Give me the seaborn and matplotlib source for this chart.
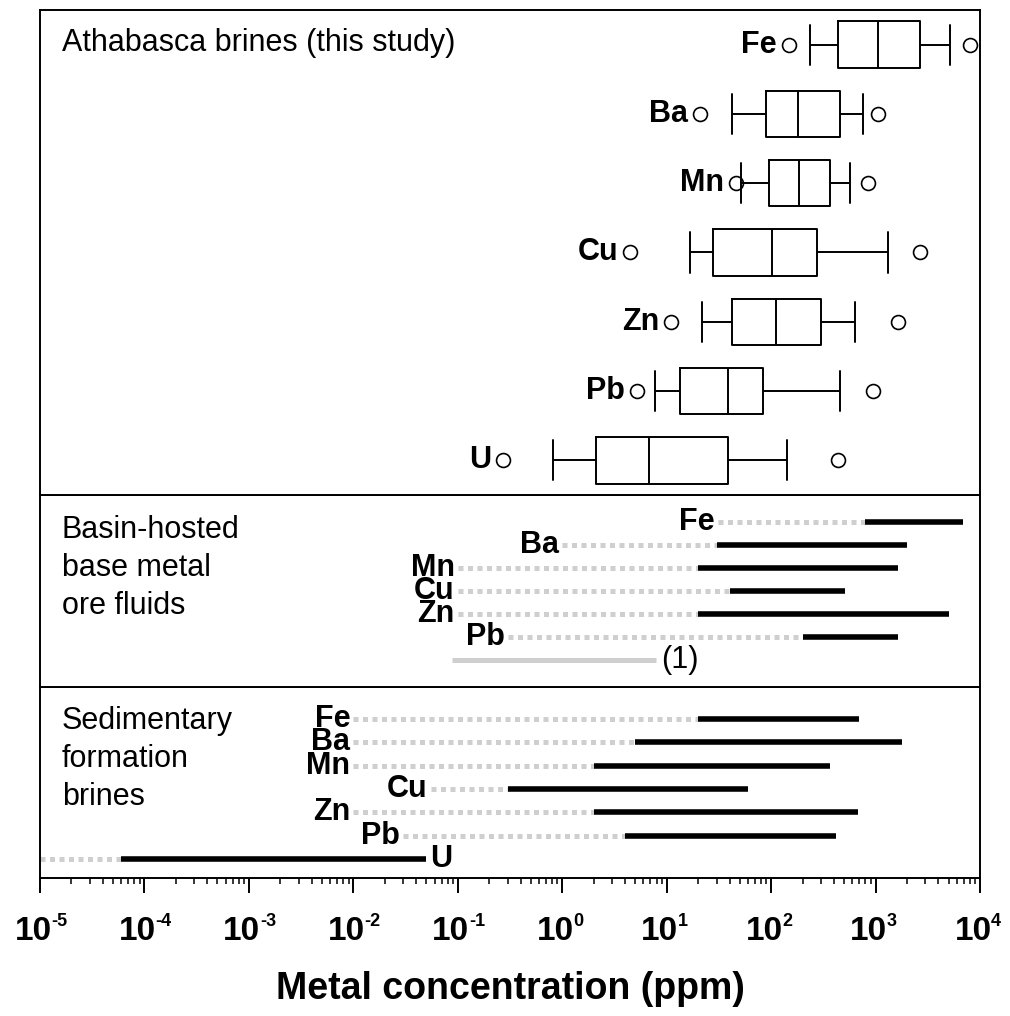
import numpy as np
import pandas as pd
import matplotlib
matplotlib.use("Agg")
import matplotlib.pyplot as plt
import matplotlib.transforms as mtransforms
from matplotlib.ticker import LogLocator, NullFormatter
import seaborn as sns

# Athabasca brines: box-plot summaries per element (ppm)
athabasca_elements = ["Fe", "Ba", "Mn", "Cu", "Zn", "Pb", "U"]
athabasca_min = [148, 21, 46, 4.5, 11, 5.2, 0.27]
athabasca_whisker_low = [236, 42, 51, 16.6, 21.7, 7.7, 0.82]
athabasca_q1 = [437, 90, 95, 28, 42.6, 13.3, 2.1]
athabasca_median = [1050, 182, 185, 102, 111, 39, 6.8]
athabasca_q3 = [2680, 460, 366, 276, 299, 83, 39]
athabasca_whisker_high = [5150, 754, 570, 1320, 634, 460, 141]
athabasca_max = [7960, 1056, 847, 2640, 1634, 935, 438]

# Basin-hosted base metal ore fluids (ppm)
ore_elements = ["Fe", "Ba", "Mn", "Cu", "Zn", "Pb"]
ore_lower_limit = [31, 1.0, 0.1, 0.1, 0.1, 0.3]
ore_low = [790, 30, 20, 40, 20, 200]
ore_high = [6900, 2000, 1640, 510, 5000, 1640]

# Sedimentary formation brines (ppm)
sed_elements = ["Fe", "Ba", "Mn", "Cu", "Zn", "Pb", "U"]
sed_lower_limit = [0.01, 0.01, 0.01, 0.055, 0.01, 0.03, 1e-5]
sed_low = [20, 5, 2, 0.3, 2, 4, 6e-5]
sed_high = [700, 1800, 370, 60, 680, 420, 0.05]

decades = list(range(-5, 5))

sns.set_theme(style="ticks")
plt.rcParams["font.family"] = ["Liberation Sans", "DejaVu Sans"]
plt.rcParams["axes.linewidth"] = 1.4
plt.rcParams["axes.edgecolor"] = "black"

BOLD = dict(fontsize=22, fontweight="bold", color="black")
TITLE = dict(fontsize=22, color="black")
GRAY = "#cfcfcf"
DOTS = (0, (1.0, 0.9))

fig = plt.figure(figsize=(10.1, 10.16), dpi=100)
left, width = 0.0396, 0.9307
ax_sed = fig.add_axes([left, 0.1358, width, 0.188])
ax_ore = fig.add_axes([left, 0.3238, width, 0.189], sharex=ax_sed)
ax_top = fig.add_axes([left, 0.5128, width, 0.4774], sharex=ax_sed)
for ax in (ax_sed, ax_ore, ax_top):
    ax.set_xscale("log")
    ax.set_facecolor("white")
    for sp in ax.spines.values():
        sp.set_linewidth(1.4)
        sp.set_color("black")

# --- Athabasca brines: box plots built from the five-number summaries ---
summary = np.column_stack([athabasca_whisker_low, athabasca_q1, athabasca_median,
                           athabasca_q3, athabasca_whisker_high])
box_df = pd.DataFrame({
    "element": np.repeat(athabasca_elements, summary.shape[1]),
    "ppm": summary.ravel(),
})
sns.boxplot(data=box_df, x="ppm", y="element", order=athabasca_elements,
            orient="h", whis=(0, 100), width=0.67, fill=False, color="black",
            linewidth=1.4, log_scale=True, capwidths=0.58, ax=ax_top)

extreme_df = pd.DataFrame({
    "element": athabasca_elements * 2,
    "ppm": athabasca_min + athabasca_max,
})
sns.stripplot(data=extreme_df, x="ppm", y="element", order=athabasca_elements,
              orient="h", jitter=False, size=10, color="white",
              edgecolor="black", linewidth=1.2, log_scale=True, zorder=1.9,
              ax=ax_top)
for i, (el, lo) in enumerate(zip(athabasca_elements, athabasca_min)):
    ax_top.annotate(el, xy=(lo, i), xytext=(-12, 0), textcoords="offset pixels",
                    ha="right", va="center", **BOLD)
ax_top.set_ylim(6.5, -0.5)
ax_top.text(0.0234, 0.915, "Athabasca brines (this study)",
            transform=ax_top.transAxes, ha="left", va="baseline", **TITLE)


def draw_ranges(ax, elements, lower, low, high, right_labels=()):
    rows = np.arange(len(elements))
    ax.hlines(rows, lower, low, colors=GRAY, linewidth=3.6, linestyles=DOTS)
    ax.hlines(rows, low, high, colors="black", linewidth=4.0, capstyle="butt")
    for r, el, lo, hi in zip(rows, elements, lower, high):
        if el in right_labels:
            ax.annotate(el, xy=(hi, r), xytext=(4, 0), textcoords="offset pixels",
                        ha="left", va="center", **BOLD)
        else:
            ax.annotate(el, xy=(lo, r), xytext=(-3, 0), textcoords="offset pixels",
                        ha="right", va="center", **BOLD)


# --- Basin-hosted base metal ore fluids ---
draw_ranges(ax_ore, ore_elements, ore_lower_limit, ore_low, ore_high)
key_tr = mtransforms.blended_transform_factory(ax_ore.transAxes, ax_ore.transData)
ax_ore.plot([0.438, 0.655], [6, 6], color=GRAY, linewidth=3.6,
            solid_capstyle="butt", transform=key_tr)
ax_ore.text(0.661, 6, "(1)", transform=key_tr, ha="left", va="center", **TITLE)
ax_ore.set_ylim(7.17, -1.17)
ax_ore.text(0.0234, 0.895, "Basin-hosted\nbase metal\nore fluids",
            transform=ax_ore.transAxes, ha="left", va="top", linespacing=1.34,
            **TITLE)

# --- Sedimentary formation brines ---
draw_ranges(ax_sed, sed_elements, sed_lower_limit, sed_low, sed_high,
            right_labels=("U",))
ax_sed.set_ylim(6.81, -1.37)
ax_sed.text(0.0234, 0.9, "Sedimentary\nformation\nbrines",
            transform=ax_sed.transAxes, ha="left", va="top", linespacing=1.34,
            **TITLE)

# --- shared log axis ---
for ax in (ax_sed, ax_ore, ax_top):
    ax.set_yticks([])
    ax.set_ylabel("")
    ax.set_xlabel("")
ax_sed.set_xlim(1e-5, 1e4)
ax_sed.set_xticks([10.0 ** d for d in decades])
ax_sed.xaxis.set_major_formatter(NullFormatter())
ax_sed.xaxis.set_minor_locator(LogLocator(base=10, subs=np.arange(2, 10), numticks=100))
ax_sed.xaxis.set_minor_formatter(NullFormatter())
ax_sed.tick_params(axis="x", which="major", direction="out", length=10.8,
                   width=1.4, colors="black")
ax_sed.tick_params(axis="x", which="minor", direction="out", length=4.3,
                   width=1.1, colors="black")
for ax in (ax_ore, ax_top):
    ax.tick_params(axis="x", which="both", bottom=False, labelbottom=False)

# decade labels: "10" with a small raised exponent
for d in decades:
    ax_sed.annotate("10", xy=(10.0 ** d, 0), xycoords=("data", "axes fraction"),
                    xytext=(-7, -62), textcoords="offset pixels",
                    ha="center", va="baseline", fontsize=24, fontweight="bold",
                    color="black", annotation_clip=False)
    ax_sed.annotate(str(d), xy=(10.0 ** d, 0),
                    xycoords=("data", "axes fraction"),
                    xytext=(11, -48), textcoords="offset pixels",
                    ha="left", va="baseline", fontsize=13, fontweight="bold",
                    color="black", annotation_clip=False)

ax_sed.set_xlabel("Metal concentration (ppm)", fontsize=27, fontweight="bold",
                  color="black", va="top")
ax_sed.xaxis.set_label_coords(0.5, -0.487)

fig.savefig("out.png", dpi=100, facecolor="white")
